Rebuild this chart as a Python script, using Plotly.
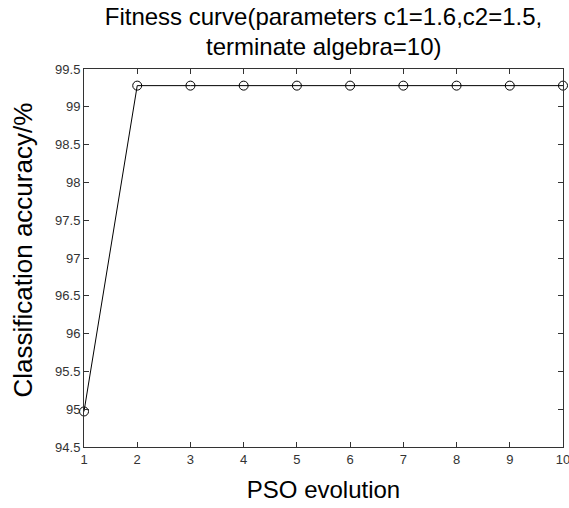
import plotly.graph_objects as go

generations = [1, 2, 3, 4, 5, 6, 7, 8, 9, 10]
accuracy = [94.97, 99.28, 99.28, 99.28, 99.28, 99.28, 99.28, 99.28, 99.28, 99.28]
y_ticks = [94.5, 95, 95.5, 96, 96.5, 97, 97.5, 98, 98.5, 99, 99.5]
y_tick_labels = ["94.5", "95", "95.5", "96", "96.5", "97", "97.5", "98", "98.5", "99", "99.5"]
title_line1 = "Fitness curve(parameters c1=1.6,c2=1.5,"
title_line2 = "terminate algebra=10)"
x_title = "PSO evolution"
y_title = "Classification accuracy/%"

fig = go.Figure()
fig.add_trace(go.Scatter(
    x=generations, y=accuracy, mode="lines+markers",
    line=dict(color="black", width=1),
    marker=dict(symbol="circle-open", size=9, color="black", line=dict(width=1)),
    cliponaxis=False, showlegend=False,
))

fig.update_layout(
    width=569, height=508,
    margin=dict(l=84, r=6, t=69, b=61, autoexpand=False),
    paper_bgcolor="white", plot_bgcolor="white",
    font=dict(family="Liberation Sans, Arial, sans-serif", color="black"),
    title=dict(
        text=title_line1,
        x=0.5, xref="paper", xanchor="center",
        y=1 - 17 / 508, yref="container", yanchor="middle",
        font=dict(size=24, color="black"),
    ),
    xaxis=dict(
        range=[1, 10], tickvals=generations, ticktext=[str(g) for g in generations],
        ticks="inside", ticklen=5, tickcolor="#333", showline=True, linecolor="#333",
        linewidth=1, mirror="ticks", showgrid=False, zeroline=False,
        ticklabeloverflow="allow",
        tickfont=dict(size=13, color="#333"),
        title=dict(text=x_title, font=dict(size=24), standoff=15),
    ),
    yaxis=dict(
        range=[94.5, 99.5], tickvals=y_ticks, ticktext=y_tick_labels,
        ticks="inside", ticklen=5, tickcolor="#333", showline=True, linecolor="#333",
        linewidth=1, mirror="ticks", showgrid=False, zeroline=False,
        ticklabeloverflow="allow",
        tickfont=dict(size=13, color="#333"),
    ),
)
fig.add_annotation(
    text=title_line2, xref="paper", x=0.5, xanchor="center",
    yref="paper", y=1, yshift=69 - 46, yanchor="middle",
    showarrow=False, font=dict(size=24, color="black"),
)
fig.add_annotation(
    text=y_title, textangle=-90, xref="paper", x=0, xshift=22.5 - 84, xanchor="center",
    yref="paper", y=(447 - 250) / 378, yanchor="middle",
    showarrow=False, font=dict(size=26, color="black"),
)

fig.write_html("out.html", post_script="document.body.style.margin='0';",
               config={"displayModeBar": False})
